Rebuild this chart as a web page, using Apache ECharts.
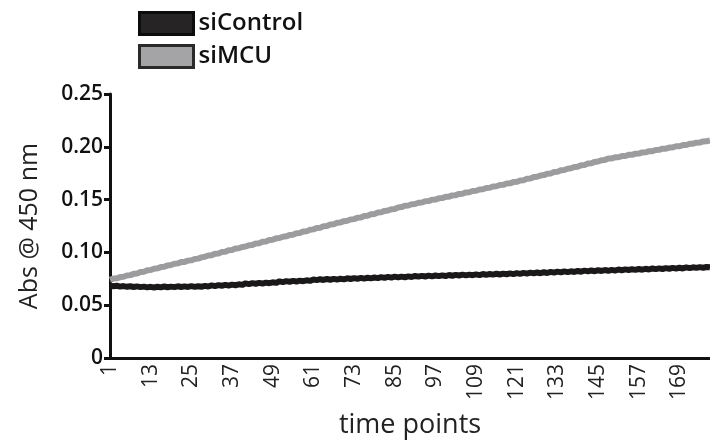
<!DOCTYPE html>
<html>
<head>
<meta charset="utf-8">
<script src="https://cdn.jsdelivr.net/npm/echarts@6/dist/echarts.min.js"></script>
<style>html,body{margin:0;padding:0;background:#fff}#c{width:710px;height:444px}</style>
</head>
<body>
<div id="c"></div>
<script>
const seriesNames = ['siControl', 'siMCU'];
const yTickLabels = ['0', '0.05', '0.10', '0.15', '0.20', '0.25'];
const pointCount = 178;
const categories = Array.from({length: pointCount}, (_, i) => String(i + 1));

const siMCU = [
0.0740,0.0752,0.0754,0.0766,0.0769,0.0781,0.0785,0.0797,0.0801,0.0814,
0.0817,0.0830,0.0833,0.0846,0.0849,0.0861,0.0864,0.0877,0.0880,0.0893,
0.0896,0.0908,0.0910,0.0922,0.0925,0.0937,0.0941,0.0953,0.0958,0.0971,
0.0974,0.0987,0.0990,0.1003,0.1006,0.1020,0.1022,0.1036,0.1039,0.1052,
0.1055,0.1068,0.1071,0.1084,0.1087,0.1101,0.1103,0.1117,0.1120,0.1133,
0.1136,0.1149,0.1152,0.1165,0.1168,0.1182,0.1184,0.1198,0.1201,0.1214,
0.1218,0.1231,0.1234,0.1247,0.1250,0.1264,0.1266,0.1280,0.1283,0.1296,
0.1299,0.1312,0.1315,0.1328,0.1331,0.1345,0.1347,0.1361,0.1364,0.1377,
0.1380,0.1393,0.1396,0.1409,0.1412,0.1426,0.1429,0.1442,0.1444,0.1456,
0.1458,0.1470,0.1472,0.1484,0.1486,0.1498,0.1500,0.1512,0.1514,0.1526,
0.1528,0.1540,0.1542,0.1554,0.1556,0.1568,0.1570,0.1582,0.1584,0.1596,
0.1598,0.1610,0.1612,0.1624,0.1626,0.1638,0.1640,0.1652,0.1654,0.1666,
0.1668,0.1681,0.1684,0.1697,0.1700,0.1713,0.1716,0.1729,0.1732,0.1745,
0.1748,0.1761,0.1764,0.1777,0.1780,0.1793,0.1796,0.1809,0.1812,0.1825,
0.1828,0.1841,0.1844,0.1857,0.1860,0.1873,0.1876,0.1889,0.1890,0.1900,
0.1901,0.1912,0.1913,0.1924,0.1924,0.1935,0.1936,0.1947,0.1948,0.1958,
0.1959,0.1970,0.1971,0.1982,0.1982,0.1993,0.1994,0.2005,0.2005,0.2016,
0.2017,0.2028,0.2029,0.2039,0.2040,0.2051,0.2052,0.2060
];

const siControl = [
0.0685,0.0680,0.0684,0.0676,0.0681,0.0674,0.0679,0.0672,0.0678,0.0671,
0.0676,0.0669,0.0674,0.0668,0.0675,0.0669,0.0677,0.0670,0.0676,0.0671,
0.0679,0.0672,0.0678,0.0673,0.0681,0.0674,0.0680,0.0675,0.0683,0.0677,
0.0688,0.0681,0.0690,0.0684,0.0692,0.0686,0.0695,0.0689,0.0698,0.0692,
0.0707,0.0700,0.0709,0.0703,0.0711,0.0705,0.0714,0.0708,0.0717,0.0711,
0.0726,0.0719,0.0728,0.0722,0.0730,0.0724,0.0733,0.0727,0.0736,0.0730,
0.0744,0.0737,0.0746,0.0739,0.0748,0.0741,0.0749,0.0743,0.0751,0.0745,
0.0755,0.0748,0.0757,0.0750,0.0759,0.0752,0.0760,0.0754,0.0762,0.0756,
0.0766,0.0759,0.0768,0.0761,0.0770,0.0763,0.0771,0.0765,0.0773,0.0767,
0.0777,0.0770,0.0778,0.0772,0.0780,0.0773,0.0781,0.0775,0.0783,0.0776,
0.0786,0.0779,0.0787,0.0781,0.0789,0.0782,0.0790,0.0784,0.0792,0.0785,
0.0795,0.0788,0.0796,0.0790,0.0798,0.0791,0.0799,0.0793,0.0801,0.0794,
0.0804,0.0797,0.0806,0.0799,0.0808,0.0801,0.0810,0.0803,0.0812,0.0805,
0.0816,0.0809,0.0818,0.0811,0.0820,0.0813,0.0821,0.0815,0.0824,0.0817,
0.0827,0.0820,0.0829,0.0822,0.0831,0.0824,0.0833,0.0826,0.0835,0.0828,
0.0838,0.0831,0.0839,0.0833,0.0841,0.0835,0.0843,0.0836,0.0845,0.0838,
0.0848,0.0841,0.0849,0.0843,0.0851,0.0845,0.0853,0.0846,0.0855,0.0848,
0.0858,0.0851,0.0859,0.0853,0.0861,0.0855,0.0862,0.0858
];

const FONT = '"Open Sans", sans-serif';
const chart = echarts.init(document.getElementById('c'), null, {renderer: 'canvas'});
chart.setOption({
  animation: false,
  backgroundColor: '#ffffff',
  legend: {
    orient: 'vertical',
    left: 138,
    top: 11,
    padding: 0,
    itemWidth: 54,
    itemHeight: 22,
    itemGap: 8,
    icon: 'rect',
    textStyle: {fontFamily: FONT, fontSize: 24, fontWeight: 600, color: '#111'},
    data: [
      {name: seriesNames[0], itemStyle: {color: '#262425', borderColor: '#0c0c0c', borderWidth: 3}},
      {name: seriesNames[1], itemStyle: {color: '#a4a4a6', borderColor: '#2a2a2a', borderWidth: 3}}
    ]
  },
  grid: {left: 110, right: 0, top: 94, bottom: 84, containLabel: false},
  xAxis: {
    type: 'category',
    data: categories,
    boundaryGap: false,
    name: 'time points',
    nameLocation: 'middle',
    nameGap: 54,
    nameTextStyle: {fontFamily: FONT, fontSize: 27, color: '#222'},
    axisLine: {lineStyle: {color: '#111', width: 3}},
    axisTick: {show: false},
    axisLabel: {interval: 11, rotate: 90, margin: 6, fontFamily: FONT, fontSize: 21, color: '#222'},
    splitLine: {show: false}
  },
  yAxis: {
    type: 'value',
    min: 0,
    max: 0.25,
    interval: 0.05,
    name: 'Abs @ 450 nm',
    nameLocation: 'middle',
    nameGap: 68,
    nameTextStyle: {fontFamily: FONT, fontSize: 25, color: '#222'},
    axisLine: {show: true, lineStyle: {color: '#111', width: 3}},
    axisTick: {show: true, length: 6, lineStyle: {color: '#111', width: 3}},
    axisLabel: {
      margin: 7, fontFamily: FONT, fontSize: 21, fontWeight: 600, color: '#111',
      formatter: v => yTickLabels[Math.round(v / 0.05)]
    },
    splitLine: {show: false}
  },
  series: [
    {
      name: seriesNames[1], type: 'line', data: siMCU, symbol: 'none', z: 2,
      itemStyle: {color: '#a4a4a6'},
      lineStyle: {color: '#9c9c9e', width: 6}
    },
    {
      name: seriesNames[0], type: 'line', data: siControl, symbol: 'none', z: 3,
      itemStyle: {color: '#262425'},
      lineStyle: {color: '#1a1818', width: 6}
    }
  ]
});
</script>
</body>
</html>
